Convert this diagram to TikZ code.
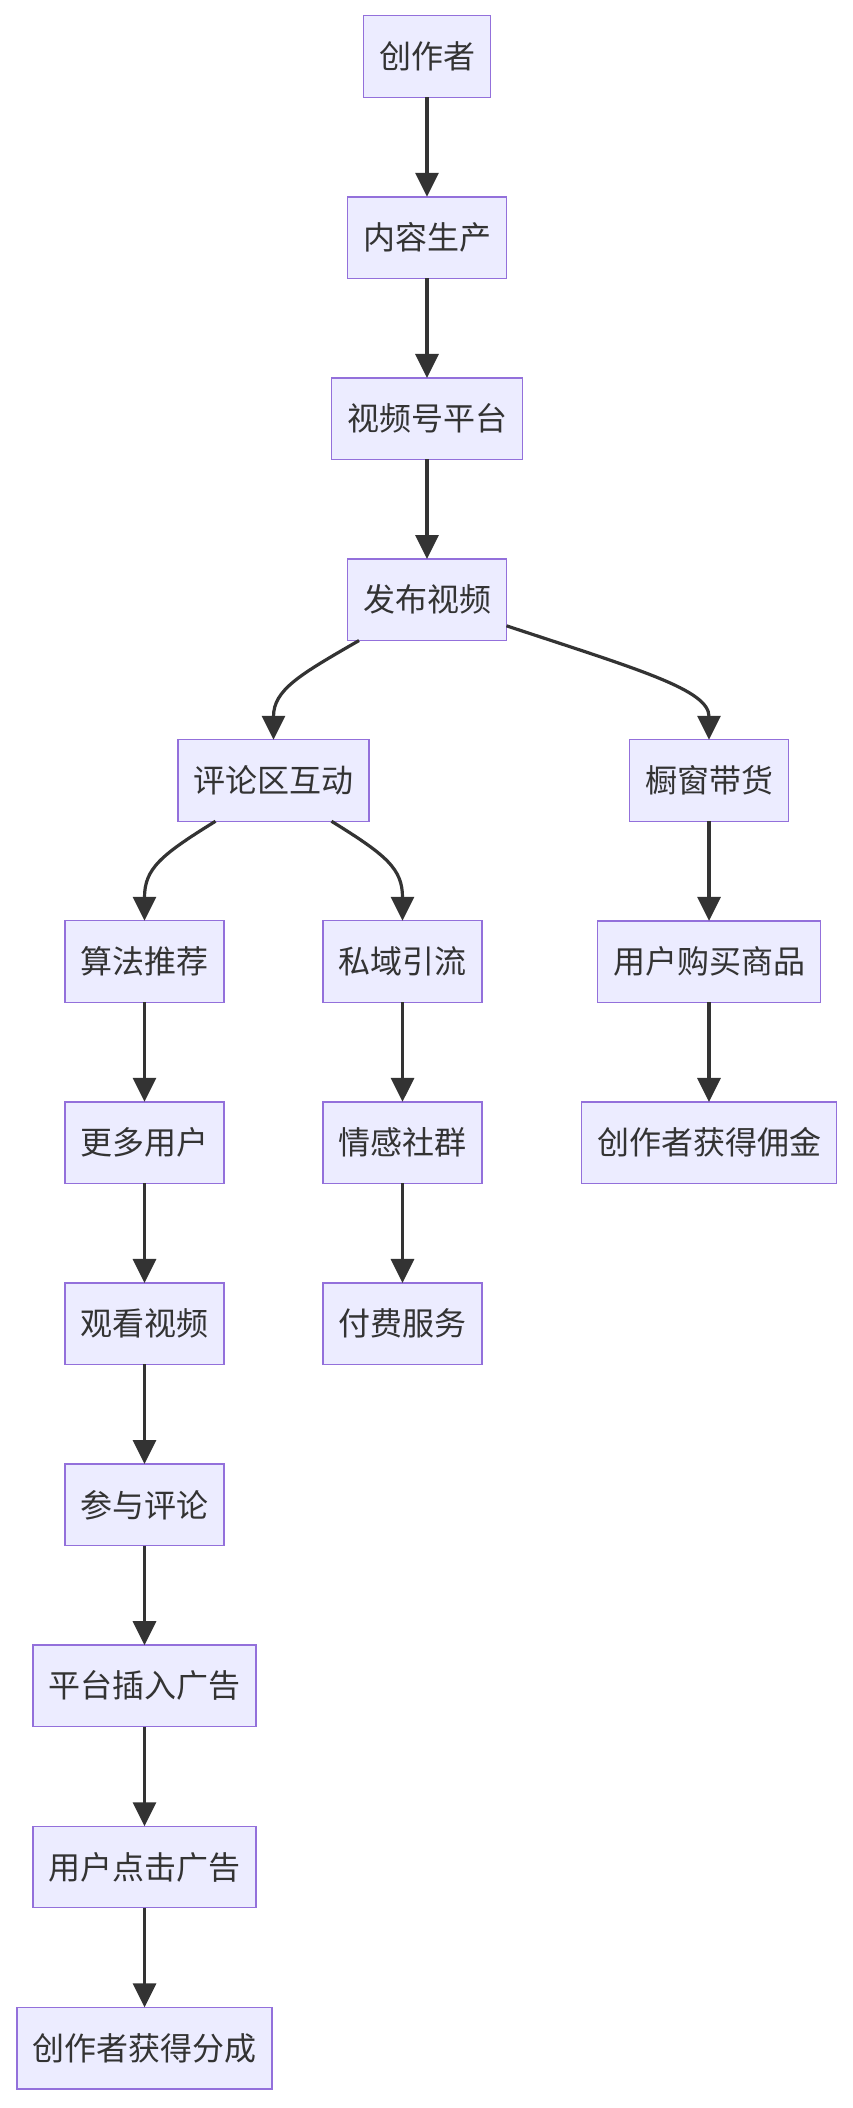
\documentclass[tikz,border=0pt]{standalone}
\usepackage{fontspec}
\setmainfont{Noto Sans CJK SC}
\usetikzlibrary{arrows.meta,positioning}
\definecolor{boxfill}{HTML}{ECECFF}
\definecolor{boxline}{HTML}{9370DB}
\definecolor{edgecol}{HTML}{333333}

\begin{document}
\begin{tikzpicture}[x=0.5pt,y=-0.5pt,node distance=49.8pt,
  box/.style={rectangle,draw=boxline,fill=boxfill,line width=0.7pt,text=edgecol,outer sep=0pt,
    font=\fontsize{16pt}{19pt}\selectfont,inner xsep=7.75pt,inner ysep=0pt,minimum height=40.75pt},
  flow/.style={draw=edgecol,line width=1.6pt,-{Triangle[length=12pt,width=11.5pt]}}]
\useasboundingbox (0,0) rectangle (852,2108);

% main line
\node [box] (author) at (427,56.5) {创作者};
\node [box,below=of author] (produce) {内容生产};
\node [box,below=of produce] (platform) {视频号平台};
\node [box,below=of platform] (publish) {发布视频};

% branches
\node [box] (comment) at (273.5,780.5) {评论区互动};
\node [box] (window) at (709,780.5) {橱窗带货};
\node [box] (algo) at (144.5,961.5) {算法推荐};
\node [box] (private) at (402.5,961.5) {私域引流};
\node [box,below=of window] (buy) {用户购买商品};
\node [box,below=of buy] (commission) {创作者获得佣金};
\node [box,below=of private] (community) {情感社群};
\node [box,below=of community] (paid) {付费服务};
\node [box,below=of algo] (moreuser) {更多用户};
\node [box,below=of moreuser] (watch) {观看视频};
\node [box,below=of watch] (join) {参与评论};
\node [box,below=of join] (adinsert) {平台插入广告};
\node [box,below=of adinsert] (adclick) {用户点击广告};
\node [box,below=of adclick] (share) {创作者获得分成};

\draw [flow] (author) -- (produce);
\draw [flow] (produce) -- (platform);
\draw [flow] (platform) -- (publish);
\draw [flow] ([xshift=-34pt]publish.south) .. controls +(-59,34) and +(0,-50) .. (comment.north);
\draw [flow] ([yshift=-13pt]publish.east) .. controls +(133,44) and +(0,-50) .. (window.north);
\draw [flow] ([xshift=-29pt]comment.south) .. controls +(-55,34) and +(0,-52) .. (algo.north);
\draw [flow] ([xshift=29pt]comment.south) .. controls +(55,34) and +(0,-52) .. (private.north);
\draw [flow] (window) -- (buy);
\draw [flow] (buy) -- (commission);
\draw [flow] (private) -- (community);
\draw [flow] (community) -- (paid);
\draw [flow] (algo) -- (moreuser);
\draw [flow] (moreuser) -- (watch);
\draw [flow] (watch) -- (join);
\draw [flow] (join) -- (adinsert);
\draw [flow] (adinsert) -- (adclick);
\draw [flow] (adclick) -- (share);
\end{tikzpicture}
\end{document}
